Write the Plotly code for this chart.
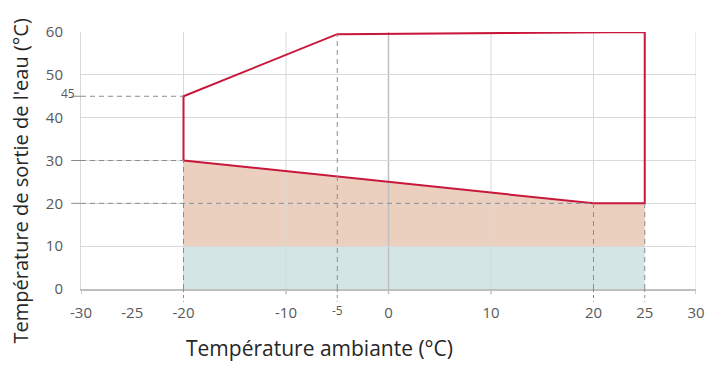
import plotly.graph_objects as go

# ---- data ----
x_tick_vals = [-30, -25, -20, -10, 0, 10, 20, 25, 30]
x_tick_text = ["-30", "-25", "-20", "-10", "0", "10", "20", "25", "30"]
y_tick_vals = [0, 10, 20, 30, 40, 50, 60]
x_grid = [-20, -10, 10, 20, 30]
x_major_ticks = [-30, -10, 0, 10, 30]

# operating envelope outline (red)
env_x = [-20, -20, -5, 25, 25, 20, -20]
env_y = [30, 45, 59.5, 60, 20, 20, 30]

# peach zone (between 10 and lower boundary)
peach_x = [-20, 20, 25, 25, -20]
peach_y = [30, 20, 20, 10, 10]
# teal zone
teal_x = [-20, 25, 25, -20]
teal_y = [0, 0, 10, 10]

# dashed reference lines
h_ref_y = [45, 30, 20]
h_ref_xend = [-20, -20, 20]
v_ref_x = [-20, -5, 20, 25]
v_ref_yend = [30, 59.5, 20, 20]

font = "Open Sans"
grey_txt = "#595959"
dash_col = "#8c8c8c"
dash_pat = "5px,4px"


def path_of(xs, ys):
    return "M " + " L ".join(f"{a},{b}" for a, b in zip(xs, ys)) + " Z"


fig = go.Figure()

shapes = []
shapes.append(dict(type="path", xref="x", yref="y", path=path_of(teal_x, teal_y),
                   fillcolor="#d3e6e5", line=dict(width=0), layer="below"))
shapes.append(dict(type="path", xref="x", yref="y", path=path_of(peach_x, peach_y),
                   fillcolor="#ebd0bf", line=dict(width=0), layer="below"))

for xv in x_grid:
    shapes.append(dict(type="line", xref="x", yref="y", x0=xv, x1=xv, y0=0, y1=60,
                       line=dict(color="#d9d9d9", width=1), layer="below"))
shapes.append(dict(type="line", xref="x", yref="y", x0=0, x1=0, y0=0, y1=60,
                   line=dict(color="#bfbfbf", width=1.5), layer="below"))

for xv in x_major_ticks:
    shapes.append(dict(type="line", xref="x", yref="paper", x0=xv, x1=xv, y0=0, y1=-0.02,
                       line=dict(color="#bfbfbf", width=1.5)))

for yv, xe in zip(h_ref_y, h_ref_xend):
    shapes.append(dict(type="line", xref="x", yref="y", x0=-30, x1=xe, y0=yv, y1=yv,
                       line=dict(color=dash_col, width=1, dash=dash_pat)))
    shapes.append(dict(type="line", xref="paper", yref="y", x0=-0.016, x1=0, y0=yv, y1=yv,
                       line=dict(color=dash_col, width=1)))

for xv, ye in zip(v_ref_x, v_ref_yend):
    shapes.append(dict(type="line", xref="x", yref="y", x0=xv, x1=xv, y0=0, y1=ye,
                       line=dict(color=dash_col, width=1, dash=dash_pat)))
    shapes.append(dict(type="line", xref="x", yref="paper", x0=xv, x1=xv, y0=0, y1=-0.05,
                       line=dict(color=dash_col, width=1, dash="3px,3px")))

fig.add_trace(go.Scatter(x=env_x, y=env_y, mode="lines",
                         line=dict(color="#c8173a", width=2), hoverinfo="skip",
                         showlegend=False))

annotations = [
    dict(x=-5, y=0, xref="x", yref="y", text="-5", showarrow=False, yshift=-21,
         font=dict(family=font, size=12, color=grey_txt)),
    dict(x=-30, y=45, xref="x", yref="y", text="45", showarrow=False, xshift=-13, yshift=3,
         font=dict(family=font, size=12, color=grey_txt)),
    dict(x=0.5, y=0, xref="paper", yref="paper", text="Température ambiante (°C)",
         showarrow=False, xshift=-69, yshift=-75, yanchor="bottom",
         font=dict(family=font, size=21, color="#262626")),
    dict(x=0, y=0.5, xref="paper", yref="paper", text="Température de sortie de l'eau (°C)",
         showarrow=False, textangle=-90, xshift=-61, yshift=-21, xanchor="center",
         font=dict(family=font, size=20, color="#262626")),
]

fig.update_layout(
    width=706, height=365,
    margin=dict(l=81, r=10, t=32, b=76, autoexpand=False),
    paper_bgcolor="white", plot_bgcolor="white",
    shapes=shapes, annotations=annotations,
    xaxis=dict(range=[-30, 30], tickvals=x_tick_vals, ticktext=x_tick_text,
               showgrid=False, zeroline=False, showline=True, linecolor="#bfbfbf",
               linewidth=1.5, ticks="", ticklabelstandoff=9, automargin=False,
               tickfont=dict(family=font, size=15, color=grey_txt)),
    yaxis=dict(range=[0, 60], tickvals=y_tick_vals, showgrid=True, gridcolor="#d9d9d9",
               gridwidth=1, zeroline=False, showline=True, linecolor="#d9d9d9",
               linewidth=1, ticks="", ticklabelstandoff=14, automargin=False,
               tickfont=dict(family=font, size=15, color=grey_txt)),
)

fig.write_html("out.html", config={"displayModeBar": False},
               post_script="document.body.style.margin='0';document.body.style.overflow='hidden';")
